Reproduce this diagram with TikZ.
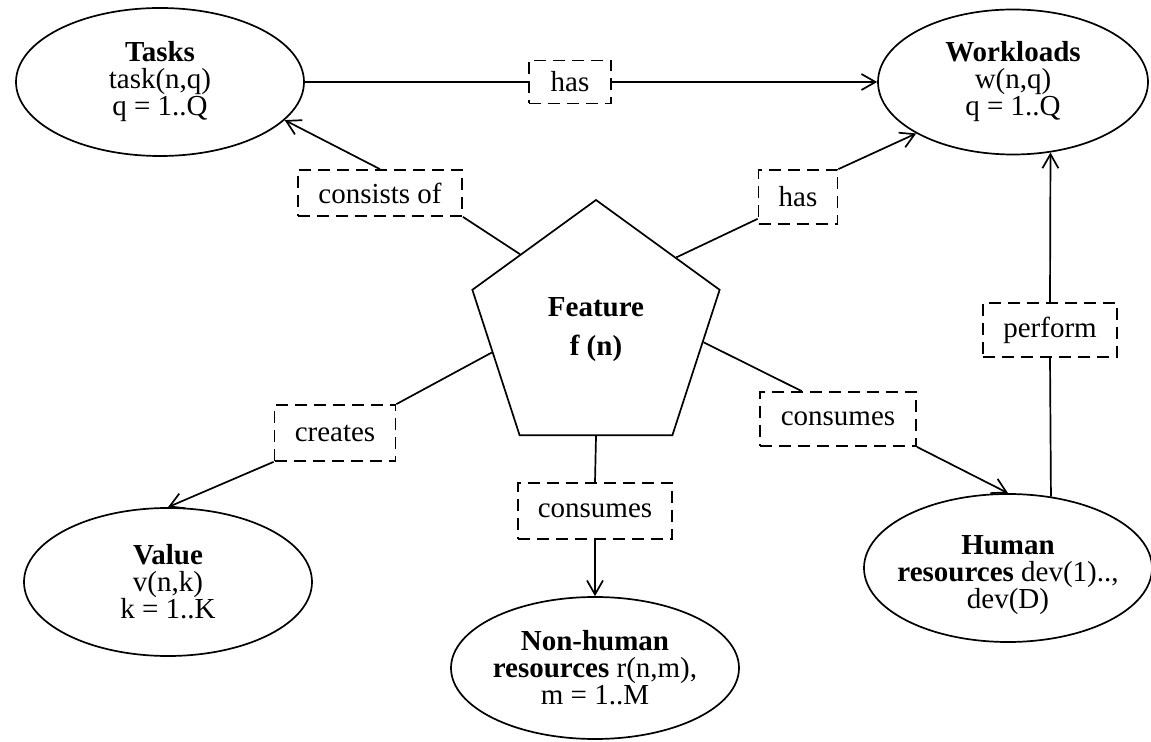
\documentclass[tikz,border=0pt]{standalone}
\usepackage{fontspec}
\setmainfont{Liberation Serif}
\usetikzlibrary{shapes.geometric , arrows.meta , calc}

\begin{document}
\begin{tikzpicture}[x = 0.5pt , y = -0.5pt , line width = 0.85pt ,
    font = \fontsize{14.5}{13.5}\selectfont ,
    entity/.style = {draw , ellipse , inner sep = 0pt , minimum width = 144pt , minimum height = 74pt},
    txt/.style = {align = center , inner sep = 0pt},
    rel/.style = {draw , dashed , dash pattern = on 6pt off 3.5pt , minimum height = 27pt , inner sep = 0pt},
    arr/.style = {-{Straight Barb[length = 7pt , width = 8pt]}}]
    \useasboundingbox (0,0) rectangle (1151,742);

    % Entitaeten
    \node[entity] (tasks) at (160,82) {};
    \node[entity , minimum width = 135pt , minimum height = 72.5pt] (work) at (1013,82) {};
    \node[entity] (value) at (168,582) {};
    \node[entity , minimum height = 71pt] (nonhuman) at (595,668) {};
    \node[entity] (human) at (1008,568) {};
    \node[draw , regular polygon , regular polygon sides = 5 , minimum size = 130pt , inner sep = 0pt ,
        align = center] (feat) at (596,330) {\textbf{Feature}\\[6pt]\textbf{f (n)}};

    \node[txt] (taskstxt) at (tasks) {\textbf{Tasks}\\task(n,q)\\q = 1..Q};
    \node[txt] (worktxt) at (work) {\textbf{Workloads}\\w(n,q)\\q = 1..Q};
    \node[txt] (valuetxt) at (value) {\textbf{Value}\\v(n,k)\\k = 1..K};
    \node[txt] (nonhumantxt) at (nonhuman) {\textbf{Non-human}\\\textbf{resources} r(n,m),\\m = 1..M};
    \node[txt , yshift = -3.5pt] (humantxt) at (human) {\textbf{Human}\\\textbf{resources} dev(1)..,\\dev(D)};

    % Beziehungen
    \node[rel , minimum width = 41pt , minimum height = 21.5pt] (has1) at (570,82) {has};
    \node[rel , minimum width = 82pt , minimum height = 23pt] (consists) at (380,193) {consists of};
    \node[rel , minimum width = 39.5pt] (has2) at (798,197) {has};
    \node[rel , minimum width = 67pt] (perform) at (1050,330) {perform};
    \node[rel , minimum width = 78pt] (cons2) at (838,419) {consumes};
    \node[rel , minimum width = 60.5pt , minimum height = 28pt] (creates) at (335,433) {creates};
    \node[rel , minimum width = 77pt , minimum height = 28pt] (cons1) at (595,511) {consumes};

    % Verbindungen
    \draw (tasks.east) -- (has1.west);
    \draw[arr] (has1.east) -- (work.west);
    \draw ($(feat.corner 1)!0.61!(feat.corner 2)$) -- (consists.south east);
    \draw[arr] (consists.north) -- (tasks.-17);
    \draw ($(feat.corner 1)!0.645!(feat.corner 5)$) -- ($(has2.south west)+(0,-6)$);
    \draw[arr] (has2.north east) -- (work.208);
    \draw ($(feat.corner 2)!0.43!(feat.corner 3)$) -- (creates.north east);
    \draw[arr] (creates.south west) -- (value.north);
    \draw (feat.south) -- (cons1.north);
    \draw[arr] (cons1.south) -- (nonhuman.north);
    \draw ($(feat.corner 5)!0.36!(feat.corner 4)$) -- ($(cons2.north west)!0.27!(cons2.north east)$);
    \draw[arr] (cons2.south east) -- (human.north);
    \draw (human.59.5) -- (perform.south);
    \draw[arr] (perform.north) -- (work.-62);
\end{tikzpicture}
\end{document}
